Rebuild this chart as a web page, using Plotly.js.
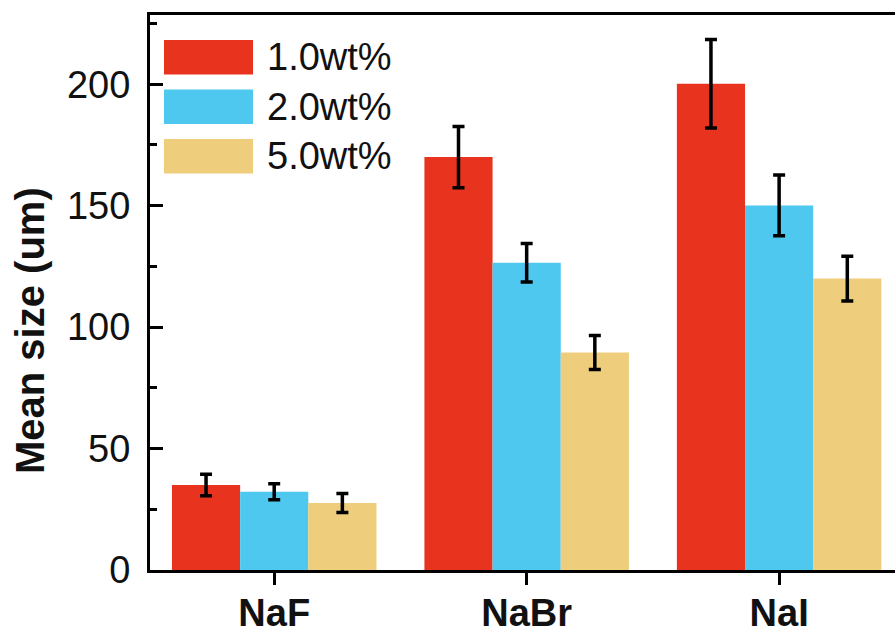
<!DOCTYPE html>
<html>
<head>
<meta charset="utf-8">
<script src="https://cdn.plot.ly/plotly-3.0.1.min.js"></script>
<style>html,body{margin:0;padding:0;background:#fff;overflow:hidden}</style>
</head>
<body>
<div id="chart" style="width:895px;height:631px"></div>
<script>
// ---- data ----
const categories = ['NaF', 'NaBr', 'NaI'];
const seriesNames = ['1.0wt%', '2.0wt%', '5.0wt%'];
const mean_1wt = [35.0, 170.0, 200.2];
const err_1wt  = [4.4, 12.6, 18.2];
const mean_2wt = [32.2, 126.5, 150.1];
const err_2wt  = [3.3, 7.9, 12.5];
const mean_5wt = [27.6, 89.5, 120.0];
const err_5wt  = [3.9, 7.0, 9.2];
const yTickVals = [0, 50, 100, 150, 200];
const yTitle = 'Mean size (um)';

// ---- styles ----
const colors = ['#E8331F', '#4FC8EF', '#EECE7C'];
const FONT = 'Liberation Sans, Arial, Helvetica, sans-serif';
const W = 895, H = 631;
const M = {l: 150, r: 0, t: 15, b: 61};

const means = [mean_1wt, mean_2wt, mean_5wt];
const errs = [err_1wt, err_2wt, err_5wt];

const traces = seriesNames.map((name, i) => ({
  type: 'bar',
  name: name,
  x: categories,
  y: means[i],
  marker: {color: colors[i], line: {width: 0}},
  error_y: {type: 'data', array: errs[i], visible: true, color: '#000', thickness: 3.5, width: 6},
  showlegend: false,
  hoverinfo: 'skip'
}));

// legend built from series names/colours (big swatches)
const plotW = W - M.l - M.r, plotH = H - M.t - M.b;
const px2x = p => (p - M.l) / plotW;
const py2y = p => 1 - (p - M.t) / plotH;
const shapes = [], annotations = [];
seriesNames.forEach((name, i) => {
  const top = 40 + i * 49.5, bot = top + 34.5;
  shapes.push({type: 'rect', xref: 'paper', yref: 'paper',
    x0: px2x(164), x1: px2x(253), y0: py2y(bot), y1: py2y(top),
    fillcolor: colors[i], line: {width: 0}, layer: 'above'});
  annotations.push({xref: 'paper', yref: 'paper', x: px2x(265), y: py2y((top + bot) / 2),
    xanchor: 'left', yanchor: 'middle', showarrow: false, text: name,
    font: {family: FONT, size: 38, color: '#111'}});
});
// y-axis title
annotations.push({xref: 'paper', yref: 'paper', x: px2x(30), y: py2y(331),
  xanchor: 'center', yanchor: 'middle', textangle: -90, showarrow: false,
  text: yTitle, font: {family: FONT, size: 40, weight: 'bold', color: '#111'}});

const layout = {
  width: W, height: H,
  margin: M,
  paper_bgcolor: '#fff', plot_bgcolor: '#fff',
  barmode: 'group', bargap: 0.19, bargroupgap: 0,
  font: {family: FONT, color: '#111'},
  xaxis: {
    type: 'category',
    range: [-0.492, 2.459],
    showline: true, linewidth: 3, linecolor: '#000', mirror: true,
    ticks: 'outside', ticklen: 12, tickwidth: 3, tickcolor: '#000',
    tickfont: {family: FONT, size: 38, weight: 'bold', color: '#111'},
    ticklabelstandoff: -5,
    showgrid: false, zeroline: false, fixedrange: true
  },
  yaxis: {
    range: [0, 228.5],
    tickvals: yTickVals,
    showline: true, linewidth: 3, linecolor: '#000', mirror: false,
    ticks: 'inside', ticklen: 13, tickwidth: 3, tickcolor: '#000',
    minor: {ticks: 'inside', dtick: 25, ticklen: 7, tickwidth: 3, tickcolor: '#000', showgrid: false},
    tickfont: {family: FONT, size: 38, color: '#111'},
    ticklabelstandoff: 9,
    showgrid: false, zeroline: false, fixedrange: true
  },
  shapes: shapes,
  annotations: annotations,
  showlegend: false
};

Plotly.newPlot('chart', traces, layout, {displayModeBar: false, staticPlot: true});
</script>
</body>
</html>
